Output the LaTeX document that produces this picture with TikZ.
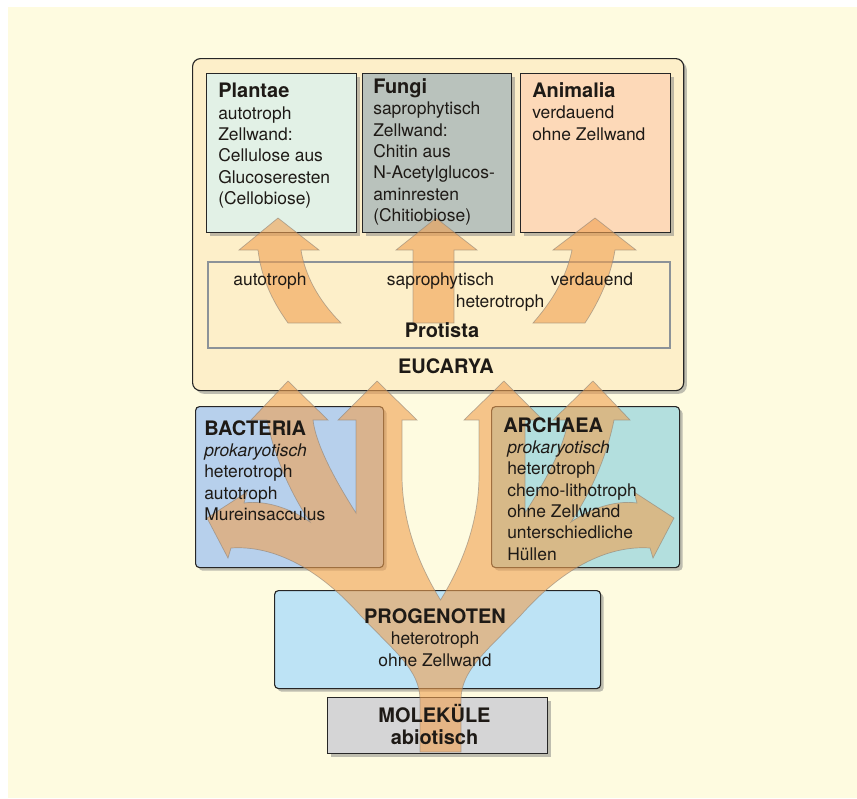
\documentclass[tikz,border=0pt]{standalone}
\usepackage{fontspec}
\setmainfont{TeX Gyre Heros}
\usetikzlibrary{shadows}
\definecolor{bgcream}{HTML}{FEFBE0}
\definecolor{eucFill}{HTML}{FDEFC9}
\definecolor{plantFill}{HTML}{E2F1E6}
\definecolor{fungiFill}{HTML}{B9C2BC}
\definecolor{animFill}{HTML}{FDD9B8}
\definecolor{bactFill}{HTML}{B7D0EC}
\definecolor{archFill}{HTML}{B3DFDE}
\definecolor{progFill}{HTML}{BDE3F5}
\definecolor{molFill}{HTML}{D5D5D6}
\definecolor{protGray}{HTML}{8C9298}
\definecolor{flowFill}{HTML}{F0A050}
\definecolor{flowLine}{HTML}{8C8278}
\definecolor{inkDark}{HTML}{1E1A16}
\newcommand{\boxtitle}[1]{{\fontsize{14.2}{15.15}\selectfont\bfseries #1}}
\tikzset{
  box/.style={draw=black!85, line width=0.8pt, anchor=north west, inner sep=0pt,
    drop shadow={shadow xshift=2.2pt, shadow yshift=-2.2pt, opacity=0.5}},
  txt/.style={anchor=base west, align=left, inner sep=0pt, text=inkDark, font=\fontsize{12.4}{15.15}\selectfont},
  lbl/.style={anchor=base, inner sep=0pt, text=inkDark, font=\fontsize{12.4}{15.15}\selectfont},
  ttl/.style={lbl, font=\fontsize{14.2}{15.15}\selectfont\bfseries},
  flow/.style={fill=flowFill, fill opacity=0.6, draw=flowLine, draw opacity=0.6, line width=0.5pt}
}

\begin{document}
\begin{tikzpicture}[x=0.025cm, y=-0.025cm]
\useasboundingbox (0,0) rectangle (857,798);
\fill[white] (0,0) rectangle (857,798);
\fill[bgcream] (8,7) rectangle (857,798);

\node[box, fill=eucFill, rounded corners=0.2cm, minimum width=12.275cm, minimum height=8.3cm] (eucarya) at (192,58) {};
\node[draw=protGray, line width=1.3pt, anchor=north west, inner sep=0pt, minimum width=11.55cm, minimum height=2.15cm] (protista) at (207,261) {};
\node[box, fill=plantFill, minimum width=3.75cm, minimum height=3.975cm] (plantae) at (206,73) {};
\node[box, fill=fungiFill, minimum width=3.725cm, minimum height=3.975cm] (fungi) at (362,73) {};
\node[box, fill=animFill, minimum width=3.75cm, minimum height=3.975cm] (animalia) at (520,73) {};
\node[box, fill=bactFill, rounded corners=0.1cm, minimum width=4.7cm, minimum height=4.025cm] (bacteria) at (195,406) {};
\node[box, fill=archFill, rounded corners=0.1cm, minimum width=4.7cm, minimum height=4.025cm] (archaea) at (491,406) {};
\node[box, fill=progFill, rounded corners=0.1cm, minimum width=8.15cm, minimum height=2.45cm] (progenoten) at (274,590) {};
\node[box, fill=molFill, minimum width=5.5cm, minimum height=1.4cm] (molekule) at (327,697) {};

\draw[flow] (288,323) .. controls (270,298) and (261,275) .. (258,250) -- (239,250) -- (278,218) -- (319,250) -- (301,250) .. controls (305,275) and (318,300) .. (341,323) -- cycle;
\draw[flow] (413,323) -- (413,250) -- (396,250) -- (436,218) -- (477,250) -- (454,250) -- (454,323) -- cycle;
\draw[flow] (533,323) .. controls (553,300) and (566,278) .. (572,250) -- (553,250) -- (595,218) -- (636,250) -- (615,250) .. controls (611,275) and (600,300) .. (585,323) -- cycle;

\draw[flow] (440.5,600) .. controls (425,575) and (402,530) .. (402,475) -- (402,420) -- (417,420) -- (377,381) -- (338,420) -- (356,420) -- (356,513)
  .. controls (335,480) and (316,445) .. (313,420) -- (328,420) -- (288,381) -- (251,420) -- (267,420)
  .. controls (275,460) and (292,495) .. (310,522) .. controls (290,508) and (265,500) .. (244,503) -- (247,492) -- (207,518) -- (228,558) -- (231,548)
  .. controls (275,545) and (320,570) .. (360,615) .. controls (395,652) and (420,670) .. (420,700) -- (420,752) -- (461,752) -- (461,700)
  .. controls (461,670) and (486,652) .. (521,615) .. controls (561,570) and (606,545) .. (650,548) -- (653,558) -- (674,518) -- (634,492) -- (637,503)
  .. controls (616,500) and (591,508) .. (571,522) .. controls (589,495) and (606,460) .. (614,420) -- (630,420) -- (593,381) -- (553,420) -- (568,420)
  .. controls (565,445) and (546,480) .. (525,513) -- (525,420) -- (543,420) -- (504,381) -- (464,420) -- (479,420) -- (479,475)
  .. controls (479,530) and (456,575) .. (440.5,600) -- cycle;

\node[txt] (plantae-txt) at ([shift={(12,131.5)}]plantae.north west) {\boxtitle{Plantae}\\autotroph\\Zellwand:\\Cellulose aus\\Glucoseresten\\(Cellobiose)};
\node[txt] (fungi-txt) at ([shift={(11,148.5)}]fungi.north west) {\boxtitle{Fungi}\\saprophytisch\\Zellwand:\\Chitin aus\\N-Acetylglucos-\\aminresten\\(Chitiobiose)};
\node[txt] (animalia-txt) at ([shift={(12,67)}]animalia.north west) {\boxtitle{Animalia}\\verdauend\\ohne Zellwand};
\node[txt] (bacteria-txt) at ([shift={(9,114.5)}]bacteria.north west) {\boxtitle{BACTERIA}\\\textit{prokaryotisch}\\heterotroph\\autotroph\\Mureinsacculus};
\node[txt] (archaea-txt) at ([shift={(16,154)}]archaea.north west) {\hspace*{-0.1cm}\boxtitle{ARCHAEA}\\\textit{prokaryotisch}\\heterotroph\\chemo-lithotroph\\ohne Zellwand\\unterschiedliche\\Hüllen};

\node[lbl] (auto-lbl) at (270,285) {autotroph};
\node[lbl] (sapro-lbl) at (440.5,285) {saprophytisch};
\node[lbl] (verd-lbl) at (592,285) {verdauend};
\node[lbl] (hetero-lbl) at (500,307) {heterotroph};
\node[ttl] (protista-lbl) at (442,337) {Protista};
\node[ttl] (eucarya-lbl) at (446,373) {EUCARYA};
\node[lbl, align=center] (progenoten-txt) at (435,666) {\boxtitle{PROGENOTEN}\\heterotroph\\ohne Zellwand};
\node[ttl, align=center] (molekule-txt) at (434.5,744) {MOLEKÜLE\\abiotisch};
\end{tikzpicture}
\end{document}
